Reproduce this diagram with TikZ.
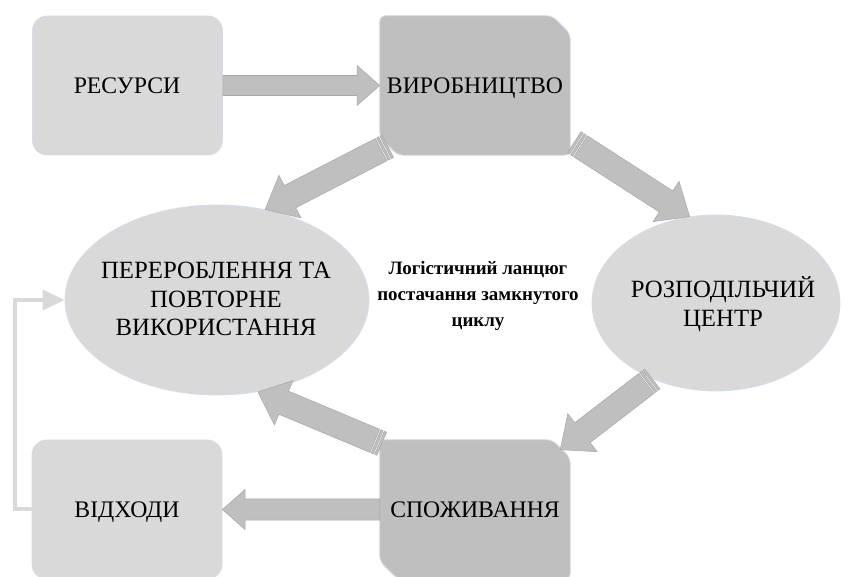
\documentclass[tikz,border=0pt]{standalone}
\usepackage{fontspec}
\setmainfont{Liberation Serif}
\usetikzlibrary{calc,shapes.geometric,arrows.meta}

\definecolor{lightbox}{HTML}{D9D9D9}
\definecolor{darkbox}{HTML}{BFBFBF}
\definecolor{arrowedge}{HTML}{A9A9A9}
\definecolor{glow}{HTML}{D3DDEC}

\tikzset{
  lbl/.style={font=\fontsize{17.8}{21.4}\selectfont, align=center, text=black},
  boxlbl/.style={lbl, text depth=0pt},
  ovallbl/.style={font=\fontsize{18.6}{21.6}\selectfont, align=center, text=black},
  boxframe/.style={rectangle, minimum width=142.5pt, minimum height=104.25pt, inner sep=0pt},
  softbox/.style={boxframe, rounded corners=11pt, fill=lightbox, draw=glow, line width=0.6pt},
  snipfill/.style={fill=darkbox, draw=glow, line width=0.6pt, rounded corners=4.5pt},
  oval/.style={ellipse, fill=lightbox, draw=glow, line width=0.6pt, inner sep=0pt},
  arrowbody/.style={fill=darkbox, draw=arrowedge, line width=0.4pt, line join=miter},
  loopline/.style={draw=lightbox, line width=3pt,
    -{Triangle[length=16.5pt,width=15pt]}},
}

% box with its top right and bottom left corners cut off
\newcommand{\snipshape}[1]{%
  \filldraw[snipfill]
    ($(#1.north east)+(-18,0)$) -- ($(#1.north east)+(0,18)$) -- (#1.south east)
    -- ($(#1.south west)+(18,0)$) -- ($(#1.south west)+(0,-18)$) -- (#1.north west) -- cycle;
}
% block arrow: tail, tip, half shaft width, half head width, head length
\newcommand{\blockarrow}[5]{%
  \coordinate (bah) at ($(#2)!#5!(#1)$);
  \filldraw[arrowbody]
    ($(#1)!#3!90:(#2)$) -- ($(bah)!#3!90:(#2)$) -- ($(bah)!#4!90:(#2)$) -- (#2)
    -- ($(bah)!#4!-90:(#2)$) -- ($(bah)!#3!-90:(#2)$) -- ($(#1)!#3!-90:(#2)$) -- cycle;
}
% same arrow with two thin bands at its tail
\newcommand{\stripedarrow}[5]{%
  \coordinate (sa0) at (#1);
  \coordinate (sa1) at ($(#1)!1.8pt!(#2)$);
  \coordinate (sa2) at ($(#1)!2.8pt!(#2)$);
  \coordinate (sa3) at ($(#1)!4.6pt!(#2)$);
  \coordinate (sa4) at ($(#1)!5.6pt!(#2)$);
  \filldraw[arrowbody] ($(sa0)!#3!90:(#2)$) -- ($(sa1)!#3!90:(#2)$)
    -- ($(sa1)!#3!-90:(#2)$) -- ($(sa0)!#3!-90:(#2)$) -- cycle;
  \filldraw[arrowbody] ($(sa2)!#3!90:(#2)$) -- ($(sa3)!#3!90:(#2)$)
    -- ($(sa3)!#3!-90:(#2)$) -- ($(sa2)!#3!-90:(#2)$) -- cycle;
  \blockarrow{sa4}{#2}{#3}{#4}{#5}
}

\begin{document}
\begin{tikzpicture}[x=0.75pt,y=-0.75pt]
  \useasboundingbox (0,0) rectangle (865,577);

  % stages of the chain
  \node[softbox]  (res)   at (127.5,85.5) {};
  \node[boxframe] (prod)  at (475,85.5)   {};
  \node[boxframe] (cons)  at (475,509.5)  {};
  \node[softbox]  (waste) at (127,509.5)  {};
  \snipshape{prod}
  \snipshape{cons}

  \node[oval, minimum width=228pt, minimum height=142.5pt] (rec) at (217,300) {};
  \node[oval, minimum width=186pt, minimum height=132pt] (dist) at (716,303) {};

  % flows between the stages
  \blockarrow{res.east}{prod.west}{7.5pt}{15pt}{17pt}
  \blockarrow{cons.west}{waste.east}{8pt}{15pt}{17pt}

  \coordinate (t2) at ($(prod.south west)+(8,-9)$);
  \stripedarrow{t2}{rec.62}{9.4pt}{18pt}{21pt}

  \coordinate (t3) at ($(prod.south east)+(4,-13)$);
  \stripedarrow{t3}{dist.107}{9.4pt}{18pt}{21pt}

  \coordinate (h4) at ($(cons.north east)+(-10,10)$);
  \stripedarrow{dist.230}{h4}{9.4pt}{18pt}{21pt}

  \coordinate (t5) at ($(cons.north west)+(2,4)$);
  \stripedarrow{t5}{rec.294}{9.4pt}{18pt}{21pt}

  % return of waste into recycling
  \draw[loopline] (waste.west) -- ++(-17,0) |- (rec.west);

  % texts of the stages and the caption
  \node[boxlbl] (restext)   at (127,86)  {РЕСУРСИ};
  \node[boxlbl] (prodtext)  at (475,86)  {ВИРОБНИЦТВО};
  \node[boxlbl] (constext)  at (475,510) {СПОЖИВАННЯ};
  \node[boxlbl] (wastetext) at (127,510) {ВІДХОДИ};
  \node[ovallbl] (rectext)  at (216,299) {ПЕРЕРОБЛЕННЯ ТА\\ПОВТОРНЕ\\ВИКОРИСТАННЯ};
  \node[ovallbl] (disttext) at (723,304) {РОЗПОДІЛЬЧИЙ\\ЦЕНТР};
  \node[font=\bfseries\fontsize{14.2}{19.5}\selectfont, align=center] (title)
    at (478,296) {Логістичний ланцюг\\постачання замкнутого\\циклу};
\end{tikzpicture}
\end{document}
